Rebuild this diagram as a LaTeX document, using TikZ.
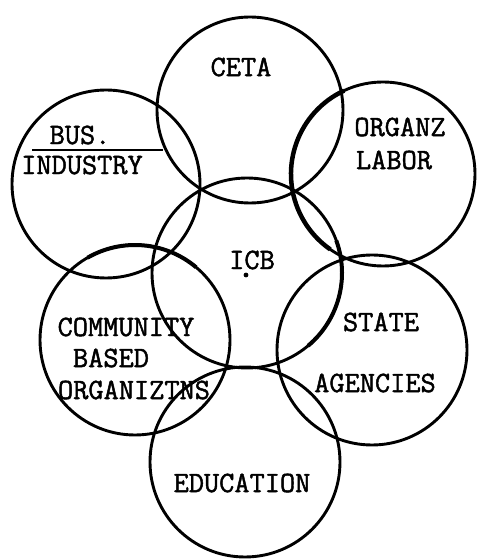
\documentclass[tikz,border=0pt]{standalone}
\usepackage{fontspec}
\newfontfamily\twfont[FakeBold=1.6]{Latin Modern Mono}
\begin{document}
\begin{tikzpicture}[x=1pt,y=1pt,
  ring/.style={circle,draw=black,line width=2.9pt,inner sep=0pt,minimum size=#1},
  lbl/.style={font=\twfont\fontsize{29.5}{31}\selectfont,inner sep=0pt,anchor=center}]
\useasboundingbox (0,0) rectangle (478,560);
\node[ring=186pt] (ceta) at (250,450) {};
\node[ring=188pt] (bus) at (106,376) {};
\node[ring=184pt] (labor) at (383,386) {};
\node[ring=190pt] (icb) at (247,287) {};
\node[ring=190pt] (comm) at (135,220) {};
\node[ring=190pt] (state) at (372,210) {};
\node[ring=190pt] (edu) at (245,98) {};
% heavier arcs as in the scan
\draw[line width=4.5pt] (383,386) ++(115:92) arc (115:235:92);
\draw[line width=4pt] (247,287) ++(-50:95) arc (-50:20:95);
\draw[line width=4pt] (135,220) ++(50:95) arc (50:120:95);
\node[lbl] (tceta) at (241,493) {CETA};
\node[lbl] (tbus) at (80,425) {BUS.};
\coordinate (busL) at (32,410);
\coordinate (busR) at (163,410);
\draw[line width=1.8pt] (busL) -- (busR);
\node[lbl] (tind) at (82,395) {INDUSTRY};
\node[lbl] (torg) at (400,433) {ORGANZ};
\node[lbl] (tlab) at (394,400) {LABOR};
\node[lbl] (ticb) at (252,300) {ICB};
\fill (246,285) circle (2.4pt);
\node[lbl] (tcom) at (126,233) {COMMUNITY};
\node[lbl] (tbas) at (111,202) {BASED};
\node[lbl] (torz) at (134,170) {ORGANIZTNS};
\node[lbl] (tsta) at (381,238) {STATE};
\node[lbl] (tage) at (375,177) {AGENCIES};
\node[lbl] (tedu) at (242,77) {EDUCATION};
\end{tikzpicture}
\end{document}
